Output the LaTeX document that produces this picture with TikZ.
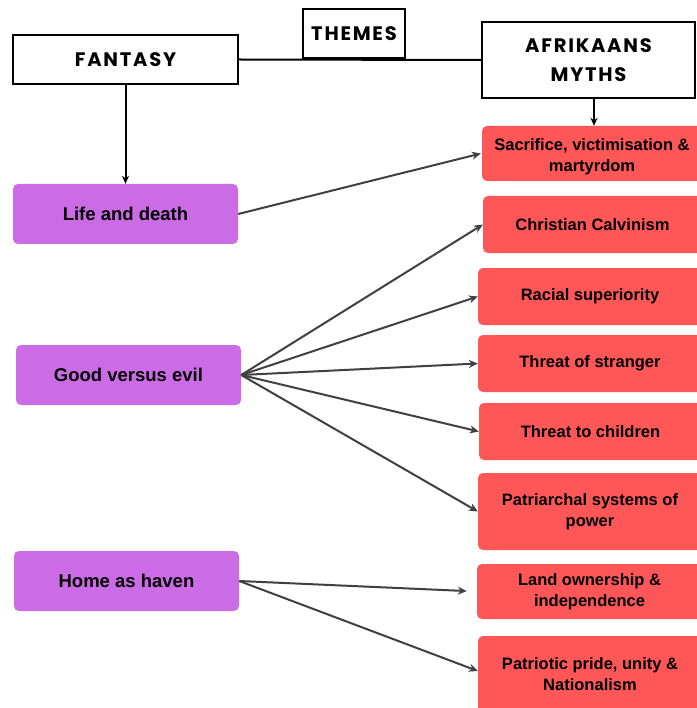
\documentclass[tikz,border=0pt]{standalone}
\usepackage{fontspec}
\setmainfont{Liberation Sans}
\newfontfamily\headfont[LetterSpace=9]{Poppins}
\usetikzlibrary{arrows.meta}
\definecolor{themepurple}{HTML}{CB6CE6}
\definecolor{mythred}{HTML}{FF5757}
\definecolor{linkgray}{HTML}{404040}
\tikzset{
  headbox/.style={draw=black, line width=2pt, fill=white, align=center,
    font=\headfont\bfseries\fontsize{19.5}{29}\selectfont, inner sep=0pt},
  themebox/.style={fill=themepurple, rounded corners=5pt, align=center,
    minimum width=225pt, minimum height=60pt, inner sep=0pt,
    font=\bfseries\fontsize{18.5}{22}\selectfont},
  mythbox/.style={fill=mythred, rounded corners=5pt, align=center, inner sep=0pt,
    font=\bfseries\fontsize{16.5}{20.5}\selectfont},
  mythtext/.style={align=center, inner sep=0pt,
    font=\bfseries\fontsize{16.5}{20.5}\selectfont},
  downarrow/.style={draw=black, line width=2pt, -{Stealth[length=8pt,width=7pt]}},
  link/.style={draw=linkgray, line width=2pt, -{Stealth[length=9pt,width=8pt]}}
}
\begin{document}
\begin{tikzpicture}[x=1pt, y=-1pt]
  \useasboundingbox (0,0) rectangle (696,708);

  % headings
  \node[headbox, minimum width=225pt, minimum height=49pt] (fan) at (125.5,59.5) {FANTASY};
  \node[headbox, minimum width=213pt, minimum height=76pt] (afr) at (588.5,60) {AFRIKAANS\\MYTHS};
  \draw[line width=2pt] (fan.east) -- (afr.west);
  \node[headbox, minimum width=102pt, minimum height=49pt] (thm) at (354,33.5) {THEMES};

  % fantasy themes
  \node[themebox] (life) at (125.5,214) {Life and death};
  \node[themebox] (good) at (128.5,375) {Good versus evil};
  \node[themebox] (home) at (126.5,581) {Home as haven};

  % Afrikaans myths (boxes run past the right edge)
  \node[mythbox, minimum width=220pt, minimum height=55pt] (s1) at (592,153.5) {};
  \node[mythtext] (s1text) at ([yshift=-3pt]s1.center) {Sacrifice, victimisation \&\\martyrdom};
  \node[mythbox, minimum width=219pt, minimum height=57pt] (s2) at (592.5,224.5) {Christian Calvinism};
  \node[mythbox, minimum width=224pt, minimum height=57pt] (s3) at (590,296.5) {Racial superiority};
  \node[mythbox, minimum width=224pt, minimum height=57pt] (s4) at (590,363.5) {Threat of stranger};
  \node[mythbox, minimum width=223pt, minimum height=57pt] (s5) at (590.5,431.5) {Threat to children};
  \node[mythbox, minimum width=224pt, minimum height=77pt] (s6) at (590,511.5) {Patriarchal systems of\\power};
  \node[mythbox, minimum width=225pt, minimum height=55pt] (s7) at (589.5,591.5) {Land ownership \&\\independence};
  \node[mythbox, minimum width=224pt, minimum height=76pt] (s8) at (590,674) {Patriotic pride, unity \&\\Nationalism};

  % vertical arrows from the headings
  \draw[downarrow] (fan.south) -- (life.north);
  \draw[downarrow] ([xshift=5.5pt]afr.south) -- ([xshift=5.5pt]afr.south |- s1.north);

  % links between themes and myths
  \draw[link] (life.east) -- ([xshift=-1pt]s1.west);
  \draw[link] (good.east) -- (s2.west);
  \draw[link] (good.east) -- (s3.west);
  \draw[link] (good.east) -- (s4.west);
  \draw[link] (good.east) -- (s5.west);
  \draw[link] (good.east) -- (s6.west);
  \draw[link, shorten >=10pt] (home.east) -- (s7.west);
  \draw[link] (home.east) -- ([yshift=3pt]s8.west);
\end{tikzpicture}
\end{document}
